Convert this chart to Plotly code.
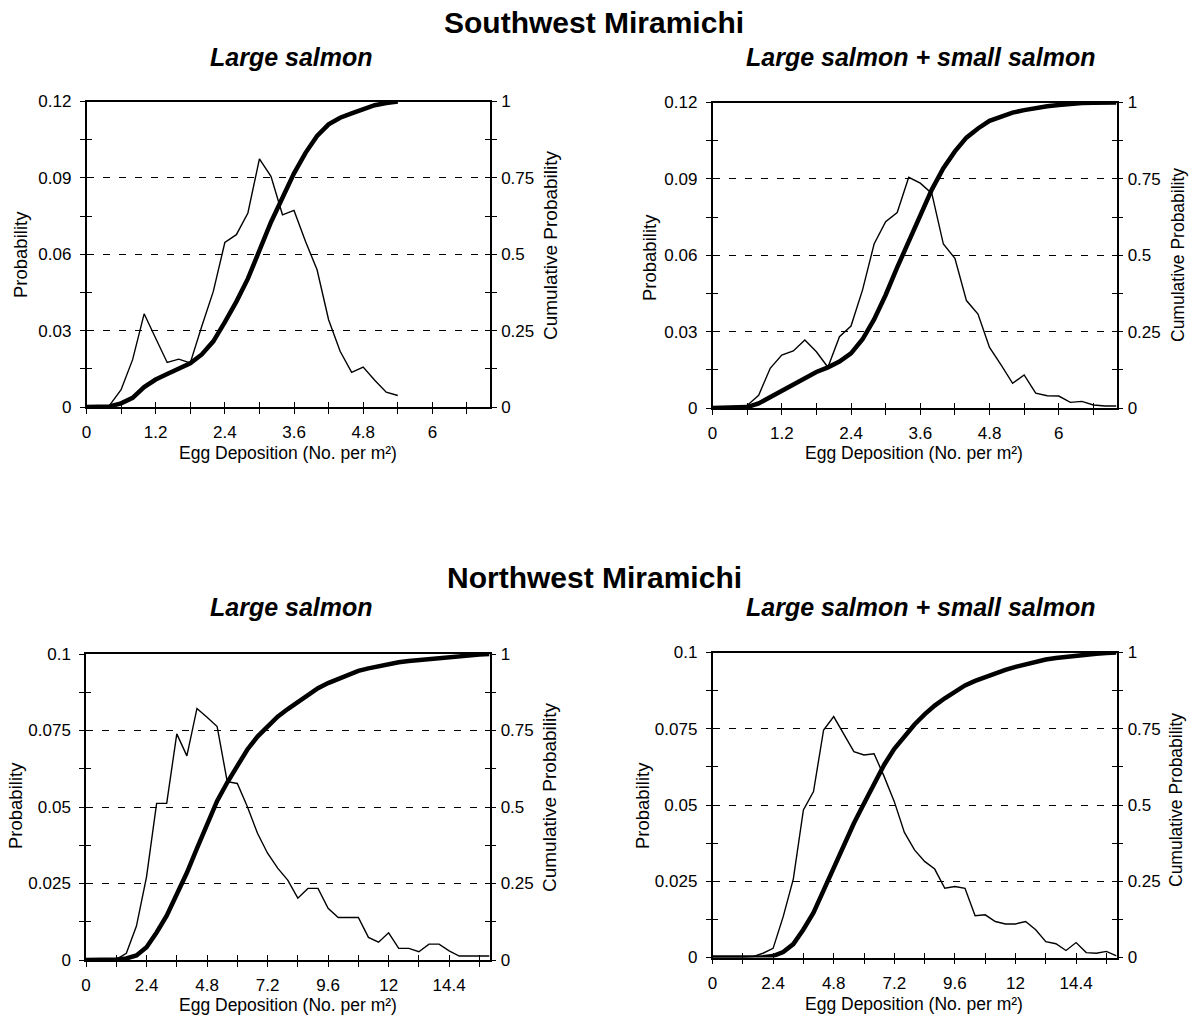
import plotly.graph_objects as go

W, H = 1194, 1020
FONT = "Liberation Sans, Arial, Helvetica, sans-serif"

# ---------------- data ----------------
# Southwest Miramichi - Large salmon
sw_large_x = [0, 0.2, 0.4, 0.6, 0.8, 1.0, 1.2, 1.4, 1.6, 1.8, 2.0, 2.2, 2.4, 2.6,
              2.8, 3.0, 3.2, 3.4, 3.6, 3.8, 4.0, 4.2, 4.4, 4.6, 4.8, 5.0, 5.2, 5.4]
sw_large_prob = [0, 0, 0.0006, 0.0068, 0.0186, 0.0366, 0.027, 0.0175, 0.0188, 0.0173,
                 0.0317, 0.0454, 0.0646, 0.0677, 0.0762, 0.0975, 0.0906, 0.0755, 0.0772,
                 0.065, 0.0539, 0.0343, 0.0219, 0.0136, 0.0157, 0.0105, 0.0058, 0.0045]
sw_large_cum = [0, 0, 0.002, 0.012, 0.03, 0.065, 0.09, 0.108, 0.126, 0.143, 0.172,
                0.215, 0.278, 0.345, 0.42, 0.51, 0.605, 0.685, 0.765, 0.832, 0.887,
                0.925, 0.947, 0.961, 0.976, 0.988, 0.995, 1.0]

# Southwest Miramichi - Large salmon + small salmon
sw_all_x = [0, 0.2, 0.4, 0.6, 0.8, 1.0, 1.2, 1.4, 1.6, 1.8, 2.0, 2.2, 2.4, 2.6, 2.8,
            3.0, 3.2, 3.4, 3.6, 3.8, 4.0, 4.2, 4.4, 4.6, 4.8, 5.0, 5.2, 5.4, 5.6, 5.8,
            6.0, 6.2, 6.4, 6.6, 6.8, 7.0]
sw_all_prob = [0, 0, 0, 0.001, 0.005, 0.0156, 0.0208, 0.0224, 0.0267, 0.0221, 0.016,
               0.028, 0.0322, 0.0464, 0.0644, 0.0732, 0.0768, 0.0906, 0.0883, 0.0843,
               0.0644, 0.0588, 0.0422, 0.0369, 0.0238, 0.0169, 0.0097, 0.013, 0.0058,
               0.0048, 0.0047, 0.0022, 0.0026, 0.0012, 0.0008, 0.0008]
sw_all_cum = [0, 0, 0, 0.003, 0.015, 0.035, 0.055, 0.078, 0.098, 0.118, 0.133, 0.152,
              0.179, 0.225, 0.29, 0.37, 0.46, 0.545, 0.63, 0.715, 0.785, 0.84, 0.885,
              0.915, 0.94, 0.955, 0.967, 0.975, 0.982, 0.988, 0.992, 0.996, 0.998,
              0.999, 1.0, 1.0]

# Northwest Miramichi - Large salmon
nw_large_x = [0, 0.4, 0.8, 1.2, 1.6, 2.0, 2.4, 2.8, 3.2, 3.6, 4.0, 4.4, 4.8, 5.2, 5.6,
              6.0, 6.4, 6.8, 7.2, 7.6, 8.0, 8.4, 8.8, 9.2, 9.6, 10.0, 10.4, 10.8, 11.2,
              11.6, 12.0, 12.4, 12.8, 13.2, 13.6, 14.0, 14.4, 14.8, 15.2, 15.6, 16.0]
nw_large_prob = [0, 0, 0, 0.0002, 0.0022, 0.0111, 0.0272, 0.0512, 0.0512, 0.0739,
                 0.0667, 0.0822, 0.0793, 0.0763, 0.0583, 0.0577, 0.0501, 0.0414, 0.0349,
                 0.03, 0.0261, 0.0202, 0.0234, 0.0234, 0.0169, 0.0139, 0.0139, 0.0139,
                 0.0074, 0.0058, 0.0089, 0.0038, 0.0038, 0.0027, 0.0052, 0.0052, 0.003,
                 0.0013, 0.0013, 0.0013, 0.0013]
nw_large_cum = [0, 0, 0, 0.002, 0.005, 0.015, 0.042, 0.09, 0.145, 0.215, 0.285, 0.365,
                0.445, 0.52, 0.58, 0.637, 0.688, 0.73, 0.765, 0.795, 0.82, 0.842, 0.865,
                0.888, 0.905, 0.918, 0.932, 0.945, 0.953, 0.96, 0.968, 0.973, 0.977,
                0.98, 0.985, 0.989, 0.992, 0.994, 0.996, 0.998, 1.0]

# Northwest Miramichi - Large salmon + small salmon
nw_all_x = nw_large_x
nw_all_prob = [0, 0, 0, 0, 0.0003, 0.0014, 0.003, 0.0134, 0.0257, 0.0484, 0.0544,
               0.0746, 0.079, 0.073, 0.0675, 0.0664, 0.0668, 0.0593, 0.0511, 0.041,
               0.0353, 0.0315, 0.029, 0.0227, 0.0233, 0.0227, 0.0137, 0.014, 0.0118,
               0.011, 0.011, 0.0118, 0.0091, 0.0052, 0.0045, 0.0023, 0.0049, 0.0016,
               0.0014, 0.002, 0.0005]
nw_all_cum = [0, 0, 0, 0, 0, 0.001, 0.005, 0.018, 0.044, 0.092, 0.147, 0.221, 0.3,
              0.373, 0.44, 0.505, 0.572, 0.632, 0.684, 0.727, 0.764, 0.797, 0.826,
              0.85, 0.872, 0.892, 0.907, 0.92, 0.932, 0.943, 0.953, 0.962, 0.97, 0.977,
              0.982, 0.986, 0.99, 0.993, 0.996, 0.998, 1.0]

# tick labels
sw_xticks = [0, 0.6, 1.2, 1.8, 2.4, 3.0, 3.6, 4.2, 4.8, 5.4, 6.0, 6.6]
sw_xlabels = ["0", "", "1.2", "", "2.4", "", "3.6", "", "4.8", "", "6", ""]
nw_xticks = [0, 1.2, 2.4, 3.6, 4.8, 6.0, 7.2, 8.4, 9.6, 10.8, 12.0, 13.2, 14.4, 15.6]
nw_xlabels = ["0", "", "2.4", "", "4.8", "", "7.2", "", "9.6", "", "12", "", "14.4", ""]
sw_yticks = [0, 0.03, 0.06, 0.09, 0.12]
sw_ylabels = ["0", "0.03", "0.06", "0.09", "0.12"]
sw_yminor = [0.015, 0.045, 0.075, 0.105]
nw_yticks = [0, 0.025, 0.05, 0.075, 0.1]
nw_ylabels = ["0", "0.025", "0.05", "0.075", "0.1"]
nw_yminor = [0.0125, 0.0375, 0.0625, 0.0875]
cum_ticks = [0, 0.25, 0.5, 0.75, 1]
cum_labels = ["0", "0.25", "0.5", "0.75", "1"]
cum_minor = [0.125, 0.375, 0.625, 0.875]

# ---------------- layout helpers ----------------
def px(x):
    return x / W


def py(y):
    return 1 - y / H


panels = [
    dict(x=sw_large_x, p=sw_large_prob, c=sw_large_cum, xmax=7.0, ymax=0.12,
         xt=sw_xticks, xl=sw_xlabels, yt=sw_yticks, yl=sw_ylabels, ym=sw_yminor,
         box=(86.5, 101.5, 490, 407)),
    dict(x=sw_all_x, p=sw_all_prob, c=sw_all_cum, xmax=7.0, ymax=0.12,
         xt=sw_xticks, xl=sw_xlabels, yt=sw_yticks, yl=sw_ylabels, ym=sw_yminor,
         box=(712.5, 102.5, 1116.5, 408)),
    dict(x=nw_large_x, p=nw_large_prob, c=nw_large_cum, xmax=16.0, ymax=0.1,
         xt=nw_xticks, xl=nw_xlabels, yt=nw_yticks, yl=nw_ylabels, ym=nw_yminor,
         box=(86, 654, 489.5, 960)),
    dict(x=nw_all_x, p=nw_all_prob, c=nw_all_cum, xmax=16.0, ymax=0.1,
         xt=nw_xticks, xl=nw_xlabels, yt=nw_yticks, yl=nw_ylabels, ym=nw_yminor,
         box=(712.5, 652.5, 1116.5, 957.5)),
]

tickfont = dict(family=FONT, size=17, color="black")
fig = go.Figure()
layout = {}


def key(letter, n):
    return f"{letter}axis" if n == 1 else f"{letter}axis{n}"


for i, pn in enumerate(panels):
    x0, y0, x1, y1 = pn["box"]
    xdom = [px(x0), px(x1)]
    ydom = [py(y1), py(y0)]
    xm, xd = 2 * i + 1, 2 * i + 2
    yl, yr, yld, yrd = 4 * i + 1, 4 * i + 2, 4 * i + 3, 4 * i + 4
    xm_id = "x" if xm == 1 else f"x{xm}"
    yl_id = "y" if yl == 1 else f"y{yl}"

    common_x = dict(domain=xdom, range=[0, pn["xmax"]], tickmode="array",
                    tickvals=pn["xt"], ticktext=pn["xl"], ticklen=5, tickwidth=1.3,
                    tickcolor="black", zeroline=False, showgrid=False, fixedrange=True,
                    automargin=False)
    layout[key("x", xm)] = dict(common_x, anchor=yl_id, ticks="outside",
                                showline=True, linecolor="black", linewidth=1.5,
                                mirror=True, tickfont=tickfont, ticklabelstandoff=4)
    layout[key("x", xd)] = dict(common_x, anchor=yl_id, overlaying=xm_id,
                                ticks="inside", showline=False, showticklabels=False)

    common_yl = dict(domain=ydom, range=[0, pn["ymax"]], tickmode="array",
                     tickvals=pn["yt"], ticktext=pn["yl"], ticklen=5, tickwidth=1.3,
                     tickcolor="black", zeroline=False, fixedrange=True,
                     automargin=False)
    layout[key("y", yl)] = dict(common_yl, anchor=xm_id, ticks="outside",
                                showline=True, linecolor="black", linewidth=1.5,
                                showgrid=True, gridcolor="black", gridwidth=1.2,
                                griddash="7px,9px", tickfont=tickfont,
                                ticklabelstandoff=5,
                                minor=dict(tickmode="array", tickvals=pn["ym"],
                                           ticks="outside", ticklen=5, tickwidth=1.3,
                                           tickcolor="black", showgrid=False))
    layout[key("y", yld)] = dict(common_yl, anchor=xm_id, overlaying=yl_id,
                                 side="left", ticks="inside", showline=False,
                                 showgrid=False, showticklabels=False,
                                 minor=dict(tickmode="array", tickvals=pn["ym"],
                                            ticks="inside", ticklen=5, tickwidth=1.3,
                                            tickcolor="black", showgrid=False))
    common_yr = dict(domain=ydom, range=[0, 1], tickmode="array", tickvals=cum_ticks,
                     ticktext=cum_labels, ticklen=5, tickwidth=1.3, tickcolor="black",
                     zeroline=False, showgrid=False, fixedrange=True, side="right",
                     overlaying=yl_id, anchor=xm_id, automargin=False)
    layout[key("y", yr)] = dict(common_yr, ticks="outside", showline=True,
                                linecolor="black", linewidth=1.5, tickfont=tickfont,
                                ticklabelstandoff=1,
                                minor=dict(tickmode="array", tickvals=cum_minor,
                                           ticks="outside", ticklen=5, tickwidth=1.3,
                                           tickcolor="black", showgrid=False))
    layout[key("y", yrd)] = dict(common_yr, ticks="inside", showline=False,
                                 showticklabels=False,
                                 minor=dict(tickmode="array", tickvals=cum_minor,
                                            ticks="inside", ticklen=5, tickwidth=1.3,
                                            tickcolor="black", showgrid=False))

    fig.add_trace(go.Scatter(x=pn["x"], y=pn["p"], mode="lines", cliponaxis=False,
                             line=dict(color="black", width=1.4),
                             xaxis=xm_id, yaxis=yl_id, showlegend=False,
                             hoverinfo="skip"))
    fig.add_trace(go.Scatter(x=pn["x"], y=pn["c"], mode="lines", cliponaxis=False,
                             line=dict(color="black", width=4.5),
                             xaxis=xm_id, yaxis=f"y{yr}", showlegend=False,
                             hoverinfo="skip"))
    fig.add_trace(go.Scatter(x=[None], y=[None], mode="lines", xaxis=f"x{xd}",
                             yaxis=f"y{yld}", showlegend=False, hoverinfo="skip"))
    fig.add_trace(go.Scatter(x=[None], y=[None], mode="lines", xaxis=f"x{xd}",
                             yaxis=f"y{yrd}", showlegend=False, hoverinfo="skip"))

annotations = []


def ann(text, x, y, size, bold=False, italic=False, angle=0):
    annotations.append(dict(
        text=text, x=px(x), y=py(y), xref="paper", yref="paper",
        xanchor="center", yanchor="middle", showarrow=False, textangle=angle,
        font=dict(family=FONT, size=size, color="black",
                  weight="bold" if bold else "normal",
                  style="italic" if italic else "normal")))


ann("Southwest Miramichi", 594, 22, 30, bold=True)
ann("Large salmon", 291, 57, 25, bold=True, italic=True)
ann("Large salmon + small salmon", 920, 57, 25, bold=True, italic=True)
ann("Northwest Miramichi", 594, 577, 30, bold=True)
ann("Large salmon", 291, 607, 25, bold=True, italic=True)
ann("Large salmon + small salmon", 920, 607, 25, bold=True, italic=True)

xtitle = "Egg Deposition (No. per m²)"
ann(xtitle, 288, 453, 17.5)
ann(xtitle, 914, 453, 17.5)
ann(xtitle, 288, 1005, 17.5)
ann(xtitle, 914, 1004, 17.5)

ann("Probability", 20, 255, 18.5, angle=-90)
ann("Probability", 649, 258, 18.5, angle=-90)
ann("Probability", 15, 806, 18.5, angle=-90)
ann("Probability", 642, 806, 18.5, angle=-90)
ann("Cumulative Probability", 550, 245, 19, angle=-90)
ann("Cumulative Probability", 1178, 255, 17.5, angle=-90)
ann("Cumulative Probability", 549, 797, 19, angle=-90)
ann("Cumulative Probability", 1176, 800, 17.5, angle=-90)

layout.update(dict(
    width=W, height=H, margin=dict(l=0, r=0, t=0, b=0, autoexpand=False),
    paper_bgcolor="white", plot_bgcolor="white",
    font=dict(family=FONT, color="black"),
    annotations=annotations, showlegend=False,
))
fig.update_layout(**layout)
fig.write_html("out.html", config={"displayModeBar": False})
